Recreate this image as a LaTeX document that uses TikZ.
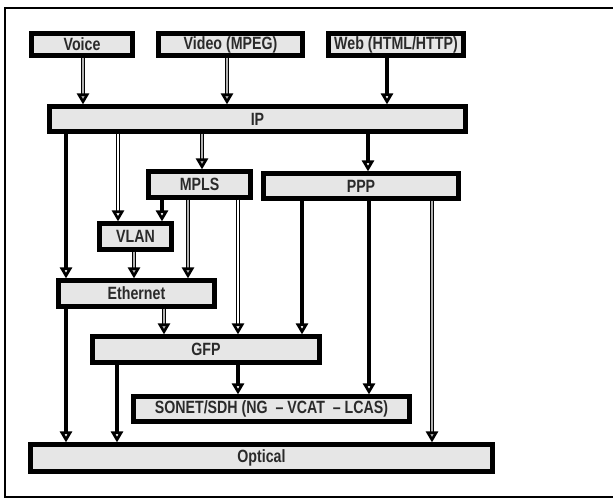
\documentclass[tikz,border=0pt]{standalone}
\usepackage{fontspec}
\setmainfont{Liberation Sans}
\usetikzlibrary{arrows.meta}
\definecolor{boxfill}{HTML}{E6E6E6}
\definecolor{txt}{HTML}{2A2A2A}
\newcommand{\tall}[1]{\scalebox{1}[1.25]{#1}}
\begin{document}
\begin{tikzpicture}[x=1pt,y=-1pt,
  box/.style={draw=black, line width=4.2pt, fill=boxfill, inner sep=0pt,
    font=\fontsize{14.2}{16}\selectfont\bfseries, text=txt},
  sarr/.style={draw=black, line width=4pt,
    -{Triangle[length=11pt,width=12pt,open,fill=white,line width=2.8pt]}},
  garr/.style={draw=black, line width=1.7pt, double=gray!60, double distance=1.2pt,
    -{Triangle[length=11pt,width=12pt,open,fill=gray!60,line width=2.6pt]}},
  warr/.style={draw=black, line width=1.6pt, double=white, double distance=1.3pt,
    -{Triangle[length=11pt,width=12pt,open,fill=white,line width=2.6pt]}}]
\useasboundingbox (0,0) rectangle (613,498);
\draw[line width=2.4pt] (5,8) rectangle (620,497);

\node[box, minimum width=101pt, minimum height=22pt] (voice) at (82,44.5) {\tall{Voice}};
\node[box, minimum width=144pt, minimum height=22pt] (video) at (230.5,44.5) {\tall{Video (MPEG)}};
\node[box, minimum width=135pt, minimum height=22pt] (web) at (396,44.5) {\tall{Web (HTML/HTTP)}};
\node[box, minimum width=416pt, minimum height=25pt] (ip) at (257.5,119) {\tall{IP}};
\node[box, minimum width=102pt, minimum height=26pt] (mpls) at (199.5,184.5) {\tall{MPLS}};
\node[box, minimum width=195pt, minimum height=25pt] (ppp) at (361,186) {\tall{PPP}};
\node[box, minimum width=72pt, minimum height=26pt] (vlan) at (135.5,236.5) {\tall{VLAN}};
\node[box, minimum width=156pt, minimum height=26pt] (eth) at (136.5,293.5) {\tall{Ethernet}};
\node[box, minimum width=227pt, minimum height=26pt] (gfp) at (206,349.5) {\tall{GFP}};
\node[box, minimum width=276pt, minimum height=25pt] (sonet) at (271.5,409) {\tall{SONET/SDH (NG\ \ – VCAT \ – LCAS)}};
\node[box, minimum width=462pt, minimum height=27pt] (optical) at (261.5,458) {\tall{Optical}};

\draw[garr] (83,0 |- voice.south) -- (83,0 |- ip.north);
\draw[garr] (227,0 |- video.south) -- (227,0 |- ip.north);
\draw[sarr] (387,0 |- web.south) -- (387,0 |- ip.north);
\draw[sarr] (66,0 |- ip.south) -- (66,0 |- eth.north);
\draw[warr] (118,0 |- ip.south) -- (118,0 |- vlan.north);
\draw[garr] (202,0 |- ip.south) -- (202,0 |- mpls.north);
\draw[sarr] (368,0 |- ip.south) -- (368,0 |- ppp.north);
\draw[sarr] (162,0 |- mpls.south) -- (162,0 |- vlan.north);
\draw[garr] (188,0 |- mpls.south) -- (188,0 |- eth.north);
\draw[warr] (238,0 |- mpls.south) -- (238,0 |- gfp.north);
\draw[sarr] (302,0 |- ppp.south) -- (302,0 |- gfp.north);
\draw[sarr] (369,0 |- ppp.south) -- (369,0 |- sonet.north);
\draw[garr] (432,0 |- ppp.south) -- (432,0 |- optical.north);
\draw[garr] (134,0 |- vlan.south) -- (134,0 |- eth.north);
\draw[garr] (164,0 |- eth.south) -- (164,0 |- gfp.north);
\draw[sarr] (66,0 |- eth.south) -- (66,0 |- optical.north);
\draw[sarr] (117,0 |- gfp.south) -- (117,0 |- optical.north);
\draw[sarr] (238,0 |- gfp.south) -- (238,0 |- sonet.north);
\end{tikzpicture}
\end{document}
